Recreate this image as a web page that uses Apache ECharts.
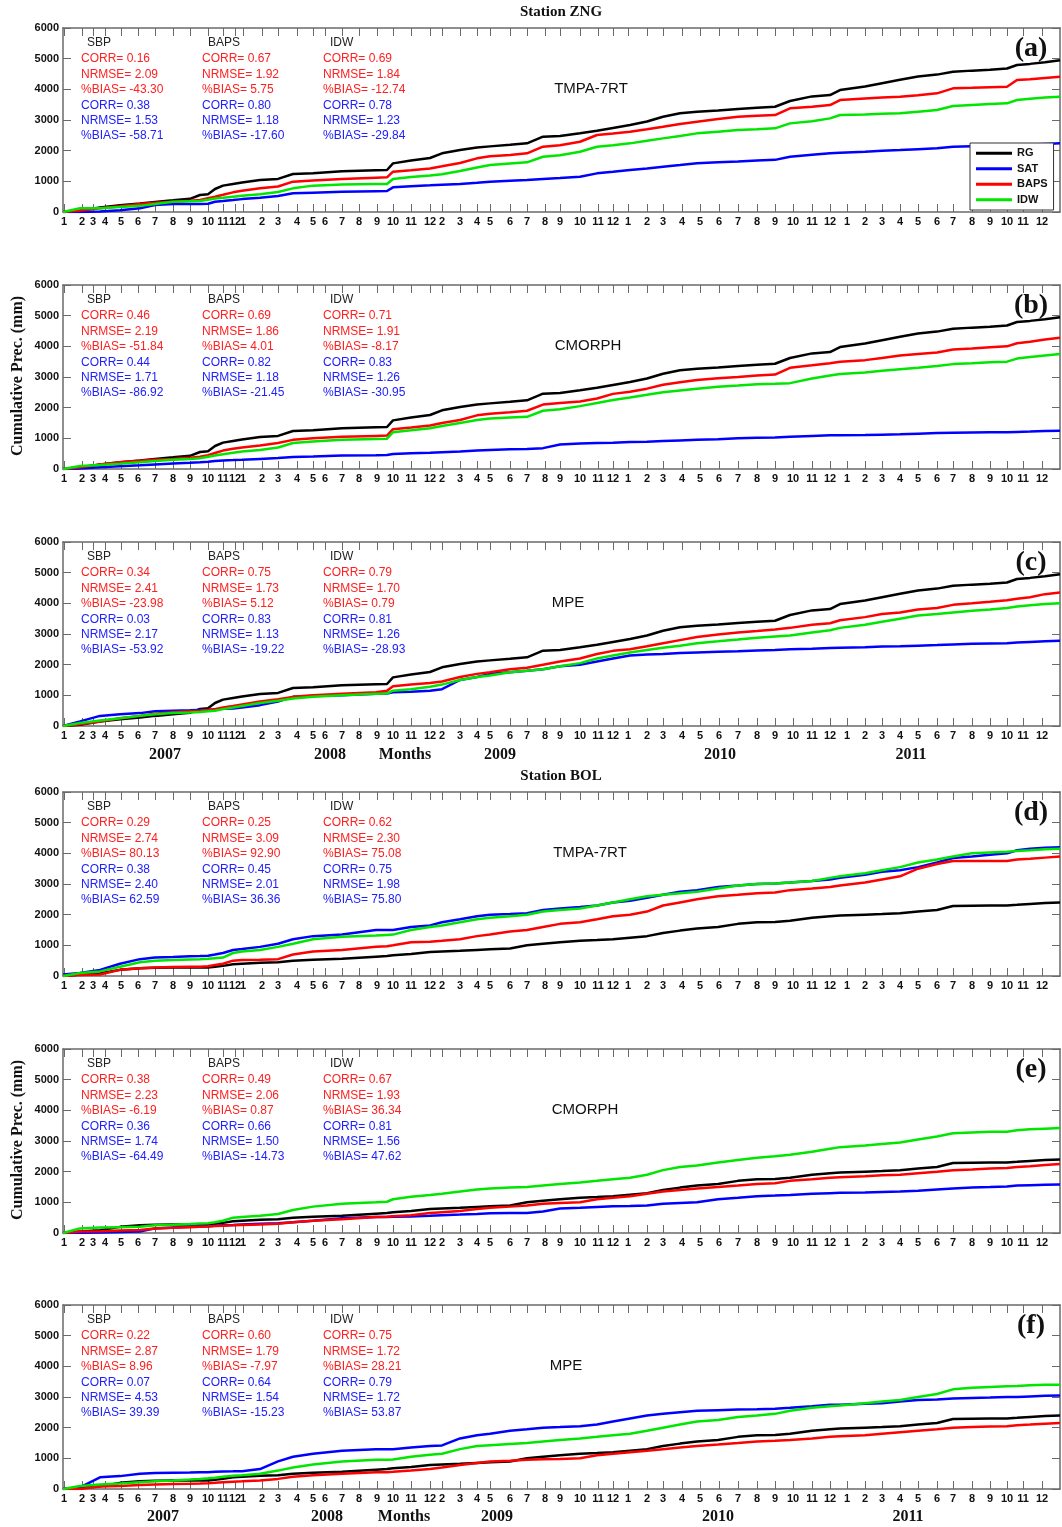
<!DOCTYPE html>
<html>
<head>
<meta charset="utf-8">
<script src="https://cdn.jsdelivr.net/npm/echarts@6/dist/echarts.min.js"></script>
<style>
html,body{margin:0;padding:0;background:#fff;}
#chart{width:1062px;height:1527px;}
</style>
</head>
<body>
<div id="chart"></div>
<script>
// ---------------- DATA ----------------
// record index (time axis, 2007-01 .. 2011-12)
const recIdx = [0,17,37,57,77,92,110,127,137,145,152,160,170,179,197,215,230,250,279,313,324,330,348,367,379,397,414,427,447,464,480,497,517,534,550,567,584,600,617,634,655,675,694,712,727,749,767,777,802,819,837,855,874,890,909,927,944,954,967,982,997];

// month tick positions on the record index axis and their labels
const monthTickPos = [1,19,30,42,58,75,92,110,127,145,160,172, 180,199,215,234,250,262,279,296,314,330,348,367, 379,397,414,427,447,464,482,497,517,535,550, 565,584,600,619,637,656,675,694,712,730,749,767, 784,802,819,837,855,874,890,909,927,944,960,979];
const monthTickLabels = ['1','2','3','4','5','6','7','8','9','10','11','12',
  '1','2','3','4','5','6','7','8','9','10','11','12',
  '2','3','4','5','6','7','8','9','10','11','12',
  '1','2','3','4','5','6','7','8','9','10','11','12',
  '1','2','3','4','5','6','7','8','9','10','11','12'];

const yearLabels = ['2007','2008','Months','2009','2010','2011'];

// Station ZNG
const rgZNG = [0,40,150,220,280, 330,380,430,554,580, 750,860,913,960,1043, 1080,1239,1260,1330,1360, 1369,1586,1680,1760,1913, 2020,2100,2140,2190,2240, 2455,2480,2570,2650,2740, 2836,2950,3107,3217,3270, 3310,3360,3400,3433,3620, 3770,3815,3977,4090,4200, 4310,4420,4480,4574,4610, 4640,4680,4792,4830,4880, 4950];
const zngTmpaSat = [0,0,20,60,120, 228,260,260,260,270, 336,360,391,420,466, 520,608,630,660,680, 684,804,840,870,890, 913,950,989,1020,1043, 1080,1110,1150,1260,1310, 1369,1420,1477,1530,1586, 1620,1650,1680,1700,1800, 1870,1913,1930,1966,1995, 2021,2050,2075,2130,2140, 2145,2150,2170,2200,2220, 2240];
const zngTmpaBaps = [0,50,120,190,260, 300,336,370,391,450, 500,560,641,690,771, 830,989,1030,1080,1120, 1130,1315,1360,1420,1490, 1600,1750,1820,1860,1913, 2130,2180,2292,2510,2560, 2618,2700,2781,2870,2944, 3030,3107,3140,3162,3380, 3430,3488,3651,3700,3730, 3760,3810,3869,4032,4050, 4070,4085,4303,4330,4370, 4410];
const zngTmpaIdw = [0,120,123,160,200, 260,336,350,358,400, 440,466,500,530,576, 650,771,860,900,913, 913,1076,1140,1190,1230, 1340,1450,1530,1580,1620, 1803,1850,1966,2129,2180, 2238,2320,2401,2480,2564, 2620,2673,2700,2727,2890, 2960,3053,3162,3180,3200, 3217,3270,3325,3455,3490, 3520,3543,3651,3690,3730, 3760];

const zngCmorphSat = [0,20,60,90,120, 150,180,200,220,240, 260,280,290,300,330, 360,390,410,440,450, 460,490,510,530,550, 570,600,620,640,650, 680,800,830,850,860, 880,890,910,930,950, 970,1000,1020,1030,1050, 1080,1100,1100,1110,1120, 1130,1150,1170,1180,1190, 1200,1200,1210,1220,1240, 1250];
const zngCmorphBaps = [0,60,150,220,270, 300,330,370,400,450, 520,600,660,700,770, 850,950,1000,1050,1080, 1090,1300,1350,1420,1500, 1600,1750,1800,1850,1900, 2100,2150,2200,2300,2450, 2520,2620,2750,2830,2900, 2960,3000,3050,3080,3300, 3380,3450,3500,3550,3620, 3700,3750,3800,3900,3930, 3970,4000,4100,4150,4220, 4280];
const zngCmorphIdw = [0,100,130,170,220, 260,300,330,350,400, 440,480,530,570,620, 700,850,900,950,980, 990,1200,1260,1330,1400, 1500,1600,1650,1680,1700, 1900,1950,2050,2150,2250, 2330,2420,2500,2560,2620, 2680,2720,2760,2780,2800, 2950,3050,3100,3150,3200, 3250,3300,3360,3420,3450, 3480,3500,3600,3650,3700, 3750];

const zngMpeSat = [0,150,330,380,420, 480,500,510,520,520, 550,560,570,600,680, 800,950,980,1000,1050, 1060,1100,1120,1150,1200, 1500,1600,1700,1750,1800, 1850,1950,2000,2100,2200, 2300,2330,2350,2380,2400, 2420,2440,2460,2480,2500, 2520,2540,2550,2570,2590, 2600,2620,2640,2660,2680, 2690,2700,2720,2740,2760, 2780];
const zngMpeBaps = [0,60,150,250,330, 400,450,480,500,520, 550,600,650,700,800, 870,950,1000,1050,1100, 1150,1300,1350,1400,1450, 1600,1700,1750,1850,1900, 2000,2100,2200,2350,2450, 2500,2600,2700,2800,2900, 2980,3050,3100,3150,3200, 3300,3350,3450,3550,3650, 3700,3800,3850,3950,4000, 4050,4100,4150,4200,4300, 4350];
const zngMpeIdw = [0,100,180,250,330, 380,420,440,460,480, 500,550,600,650,750, 820,900,950,1000,1050, 1060,1150,1200,1280,1350, 1500,1600,1650,1750,1800, 1850,1950,2050,2200,2300, 2400,2480,2550,2620,2700, 2760,2820,2880,2920,2950, 3050,3120,3200,3300,3400, 3500,3600,3650,3700,3760, 3800,3850,3900,3940,3980, 4000];

// Station BOL
const rgBOL = [0,50,87,200,250, 270,275,280,280,280, 300,330,380,400,430, 450,500,530,560,630, 650,680,720,780,800, 820,850,870,900,1000, 1050,1100,1150,1170,1200, 1250,1300,1400,1480,1550, 1600,1700,1750,1760,1800, 1900,1950,1970,2000,2020, 2050,2100,2150,2280,2290, 2300,2300,2320,2350,2380, 2400];
const bolTmpaSat = [50,100,200,400,550, 600,620,640,650,660, 700,750,850,880,950, 1050,1200,1300,1350,1500, 1500,1500,1600,1650,1750, 1850,1950,2000,2020,2050, 2150,2200,2250,2300,2400, 2450,2550,2650,2750,2800, 2900,2950,3000,3020,3050, 3100,3150,3200,3300,3400, 3450,3550,3700,3850,3900, 3950,4000,4100,4150,4180, 4200];
const bolTmpaBaps = [0,30,50,200,250, 280,290,300,300,320, 360,400,500,520,530, 550,700,800,850,950, 970,1000,1100,1120,1150, 1200,1300,1350,1450,1500, 1600,1700,1750,1850,1950, 2000,2100,2300,2400,2500, 2600,2650,2700,2720,2800, 2850,2900,2950,3050,3150, 3250,3500,3650,3750,3750, 3750,3750,3800,3820,3860, 3900];
const bolTmpaIdw = [0,100,150,300,450, 500,520,540,550,560, 580,600,750,800,850, 950,1050,1200,1280,1320, 1340,1350,1500,1600,1650, 1750,1850,1900,1950,2000, 2100,2150,2200,2300,2400, 2500,2600,2650,2700,2750, 2850,2950,3000,3020,3050, 3100,3200,3250,3350,3450, 3550,3700,3800,3900,4000, 4030,4050,4080,4100,4130, 4150];

const bolCmorphSat = [0,10,20,30,50, 150,180,200,210,220, 240,250,260,280,300, 320,350,400,480,520, 525,530,540,560,580, 600,620,640,650,650, 700,800,820,850,870, 880,900,950,980,1000, 1100,1150,1200,1220,1240, 1280,1300,1310,1320,1340, 1350,1380,1420,1450,1480, 1500,1520,1550,1560,1570, 1580];
const bolCmorphBaps = [0,50,60,80,100, 150,170,190,200,210, 230,240,250,260,280, 300,350,400,450,520, 530,550,580,650,680, 720,780,820,860,900, 950,980,1000,1100,1150, 1200,1280,1350,1400,1450, 1500,1550,1600,1620,1700, 1750,1800,1820,1850,1880, 1900,1950,2000,2050,2070, 2100,2120,2150,2180,2220, 2250];
const bolCmorphIdw = [0,150,180,190,200, 250,270,290,310,316, 350,400,500,520,560, 620,750,860,950,1000, 1020,1100,1183,1240,1280, 1350,1420,1450,1480,1500, 1550,1600,1650,1700,1750, 1800,1900,2050,2150,2200, 2300,2380,2450,2500,2550, 2650,2750,2800,2850,2900, 2950,3050,3150,3250,3280, 3300,3300,3350,3380,3400, 3420];

const bolMpeSat = [0,50,380,420,500, 520,530,540,550,550, 560,570,575,580,650, 900,1050,1150,1250,1300, 1300,1300,1350,1400,1420, 1650,1750,1800,1900,1950, 2000,2020,2050,2100,2200, 2300,2400,2450,2500,2550, 2570,2590,2600,2620,2650, 2700,2750,2750,2780,2800, 2850,2900,2920,2950,2970, 2980,3000,3000,3020,3040, 3050];
const bolMpeBaps = [0,0,80,100,130, 150,160,170,180,190, 200,220,240,250,280, 330,400,450,500,550, 550,560,600,650,700, 780,850,900,920,950, 970,980,1000,1100,1150, 1200,1250,1300,1350,1400, 1450,1500,1550,1570,1600, 1650,1700,1720,1750,1800, 1850,1900,1950,2000,2020, 2040,2050,2080,2100,2130, 2150];
const bolMpeIdw = [0,100,150,180,220, 250,280,310,330,350, 370,400,430,450,500, 600,700,800,900,950, 950,960,1050,1120,1150, 1300,1400,1430,1470,1500, 1550,1600,1650,1700,1750, 1800,1900,2000,2100,2200, 2250,2350,2400,2450,2550, 2650,2700,2720,2800,2850, 2900,3000,3100,3250,3300, 3330,3350,3360,3380,3400, 3400];

// statistics (per panel: SBP, BAPS, IDW ; each: red CORR,NRMSE,%BIAS, blue CORR,NRMSE,%BIAS)
const statsA = [['0.16','2.09','-43.30','0.38','1.53','-58.71'],['0.67','1.92','5.75','0.80','1.18','-17.60'],['0.69','1.84','-12.74','0.78','1.23','-29.84']];
const statsB = [['0.46','2.19','-51.84','0.44','1.71','-86.92'],['0.69','1.86','4.01','0.82','1.18','-21.45'],['0.71','1.91','-8.17','0.83','1.26','-30.95']];
const statsC = [['0.34','2.41','-23.98','0.03','2.17','-53.92'],['0.75','1.73','5.12','0.83','1.13','-19.22'],['0.79','1.70','0.79','0.81','1.26','-28.93']];
const statsD = [['0.29','2.74','80.13','0.38','2.40','62.59'],['0.25','3.09','92.90','0.45','2.01','36.36'],['0.62','2.30','75.08','0.75','1.98','75.80']];
const statsE = [['0.38','2.23','-6.19','0.36','1.74','-64.49'],['0.49','2.06','0.87','0.66','1.50','-14.73'],['0.67','1.93','36.34','0.81','1.56','47.62']];
const statsF = [['0.22','2.87','8.96','0.07','4.53','39.39'],['0.60','1.79','-7.97','0.64','1.54','-15.23'],['0.75','1.72','28.21','0.79','1.72','53.87']];

const statGroups = ['SBP','BAPS','IDW'];
const statNames = ['CORR= ','NRMSE= ','%BIAS= '];
const seriesNames = ['RG','SAT','BAPS','IDW'];
const yTicks = {min:0, max:6000, interval:1000};

// ---------------- LAYOUT ----------------
const gridLeft = 63, gridRight = 2;
const gridTops = [28, 285, 542, 792, 1049, 1305];
const gridH = 184;
const colors = {RG:'#000000', SAT:'#0000ff', BAPS:'#ff0000', IDW:'#00e600'};
const txtRed = '#ff2020', txtBlue = '#2020ff';

const panels = [
  {label:'(a)', product:'TMPA-7RT', px:591, rg:rgZNG, sat:zngTmpaSat, baps:zngTmpaBaps, idw:zngTmpaIdw, stats:statsA},
  {label:'(b)', product:'CMORPH', px:588, rg:rgZNG, sat:zngCmorphSat, baps:zngCmorphBaps, idw:zngCmorphIdw, stats:statsB},
  {label:'(c)', product:'MPE', px:568, rg:rgZNG, sat:zngMpeSat, baps:zngMpeBaps, idw:zngMpeIdw, stats:statsC},
  {label:'(d)', product:'TMPA-7RT', px:590, rg:rgBOL, sat:bolTmpaSat, baps:bolTmpaBaps, idw:bolTmpaIdw, stats:statsD},
  {label:'(e)', product:'CMORPH', px:585, rg:rgBOL, sat:bolCmorphSat, baps:bolCmorphBaps, idw:bolCmorphIdw, stats:statsE},
  {label:'(f)', product:'MPE', px:566, rg:rgBOL, sat:bolMpeSat, baps:bolMpeBaps, idw:bolMpeIdw, stats:statsF}
];

const tickLabelMap = {};
monthTickPos.forEach((p,i)=>{ tickLabelMap[p] = monthTickLabels[i]; });

const axisColor = '#6a6a6a';
const grids = [], xAxes = [], yAxes = [], series = [], graphics = [];

panels.forEach((p, i) => {
  const top = gridTops[i];
  grids.push({left:gridLeft, right:gridRight, top:top, height:gridH, containLabel:false});
  const xBase = {
    gridIndex:i, type:'value', min:0, max:997,
    axisLine:{show:true, onZero:false, lineStyle:{color:axisColor, width:1.5}},
    splitLine:{show:false}
  };
  xAxes.push(Object.assign({}, xBase, {
    position:'bottom',
    axisTick:{show:true, inside:true, length:8, customValues:monthTickPos, lineStyle:{color:axisColor, width:1}},
    axisLabel:{show:true, customValues:monthTickPos, margin:4, fontSize:11, fontWeight:'bold',
      fontFamily:'Arial, Liberation Sans, sans-serif', color:'#111',
      formatter:(v)=> tickLabelMap[v] !== undefined ? tickLabelMap[v] : ''}
  }));
  xAxes.push(Object.assign({}, xBase, {
    position:'top',
    axisTick:{show:true, inside:true, length:8, customValues:monthTickPos, lineStyle:{color:axisColor, width:1}},
    axisLabel:{show:false}
  }));
  const yBase = {
    gridIndex:i, type:'value', min:yTicks.min, max:yTicks.max, interval:yTicks.interval,
    axisLine:{show:true, onZero:false, lineStyle:{color:axisColor, width:1.5}},
    axisTick:{show:true, inside:true, length:8, lineStyle:{color:axisColor, width:1}},
    splitLine:{show:false}
  };
  yAxes.push(Object.assign({}, yBase, {
    position:'left',
    axisLabel:{show:true, margin:4, fontSize:11, fontWeight:'bold', fontFamily:'Arial, Liberation Sans, sans-serif', color:'#111',
      formatter:(v)=> String(v)}
  }));
  yAxes.push(Object.assign({}, yBase, {position:'right', axisLabel:{show:false}}));

  const dataSets = [p.rg, p.sat, p.baps, p.idw];
  seriesNames.forEach((name, k) => {
    series.push({
      name:name, type:'line', xAxisIndex:2*i, yAxisIndex:2*i,
      data: recIdx.map((x, j) => [x, dataSets[k][j]]),
      showSymbol:false, symbol:'none', animation:false,
      lineStyle:{color:colors[name], width:2.5},
      itemStyle:{color:colors[name]},
      z: 2 + k
    });
  });

  // statistics text
  const headX = [87, 208, 330];
  const rowX = [81, 202, 323];
  statGroups.forEach((g, c) => {
    graphics.push({type:'text', x:headX[c], y:top+15, style:{text:g, font:'12px Arial, "Liberation Sans", sans-serif', fill:'#222', align:'left', verticalAlign:'middle'}});
    for (let r = 0; r < 6; r++) {
      graphics.push({type:'text', x:rowX[c], y:top+31+r*15.4,
        style:{text:statNames[r%3] + p.stats[c][r], font:'12px Arial, "Liberation Sans", sans-serif',
          fill: r < 3 ? txtRed : txtBlue, align:'left', verticalAlign:'middle'}});
    }
  });
  // product name
  graphics.push({type:'text', x:p.px, y:top+61, style:{text:p.product, font:'15px Arial, "Liberation Sans", sans-serif', fill:'#111', align:'center', verticalAlign:'middle'}});
  // panel label
  graphics.push({type:'text', x:1031, y:top+21, style:{text:p.label, font:'bold 28px "Liberation Serif", "Times New Roman", serif', fill:'#111', align:'center', verticalAlign:'middle'}});
});

// titles
graphics.push({type:'text', x:561, y:12, style:{text:'Station ZNG', font:'bold 15px "Liberation Serif", serif', fill:'#111', align:'center', verticalAlign:'middle'}});
graphics.push({type:'text', x:561, y:776, style:{text:'Station BOL', font:'bold 15px "Liberation Serif", serif', fill:'#111', align:'center', verticalAlign:'middle'}});
// y axis names
[376, 1140].forEach(yc => {
  graphics.push({type:'text', x:18, y:yc, rotation:Math.PI/2, style:{text:'Cumulative Prec. (mm)', font:'bold 16px "Liberation Serif", serif', fill:'#111', align:'center', verticalAlign:'middle'}});
});
// year / Months labels
const yearX1 = [165, 330, 405, 500, 720, 911];
const yearX2 = [163, 327, 404, 497, 718, 908];
yearLabels.forEach((t, k) => {
  graphics.push({type:'text', x:yearX1[k], y:755, style:{text:t, font:'bold 16px "Liberation Serif", serif', fill:'#111', align:'center', verticalAlign:'middle'}});
  graphics.push({type:'text', x:yearX2[k], y:1517, style:{text:t, font:'bold 16px "Liberation Serif", serif', fill:'#111', align:'center', verticalAlign:'middle'}});
});

const chart = echarts.init(document.getElementById('chart'), null, {renderer:'canvas', width:1062, height:1527});
chart.setOption({
  backgroundColor:'#ffffff',
  animation:false,
  grid:grids, xAxis:xAxes, yAxis:yAxes, series:series,
  legend:{
    data:seriesNames.map(n => ({name:n, icon:'rect'})), orient:'vertical', left:970, top:143,
    itemWidth:36, itemHeight:3, itemGap:3,
    backgroundColor:'#fff', borderColor:'#333', borderWidth:1, padding:[4,6,4,6],
    textStyle:{fontSize:11, fontWeight:'bold', fontFamily:'Arial, "Liberation Sans", sans-serif', color:'#111', lineHeight:12.5},
    selectedMode:false, z:20
  },
  graphic:{elements:graphics}
});
</script>
</body>
</html>
